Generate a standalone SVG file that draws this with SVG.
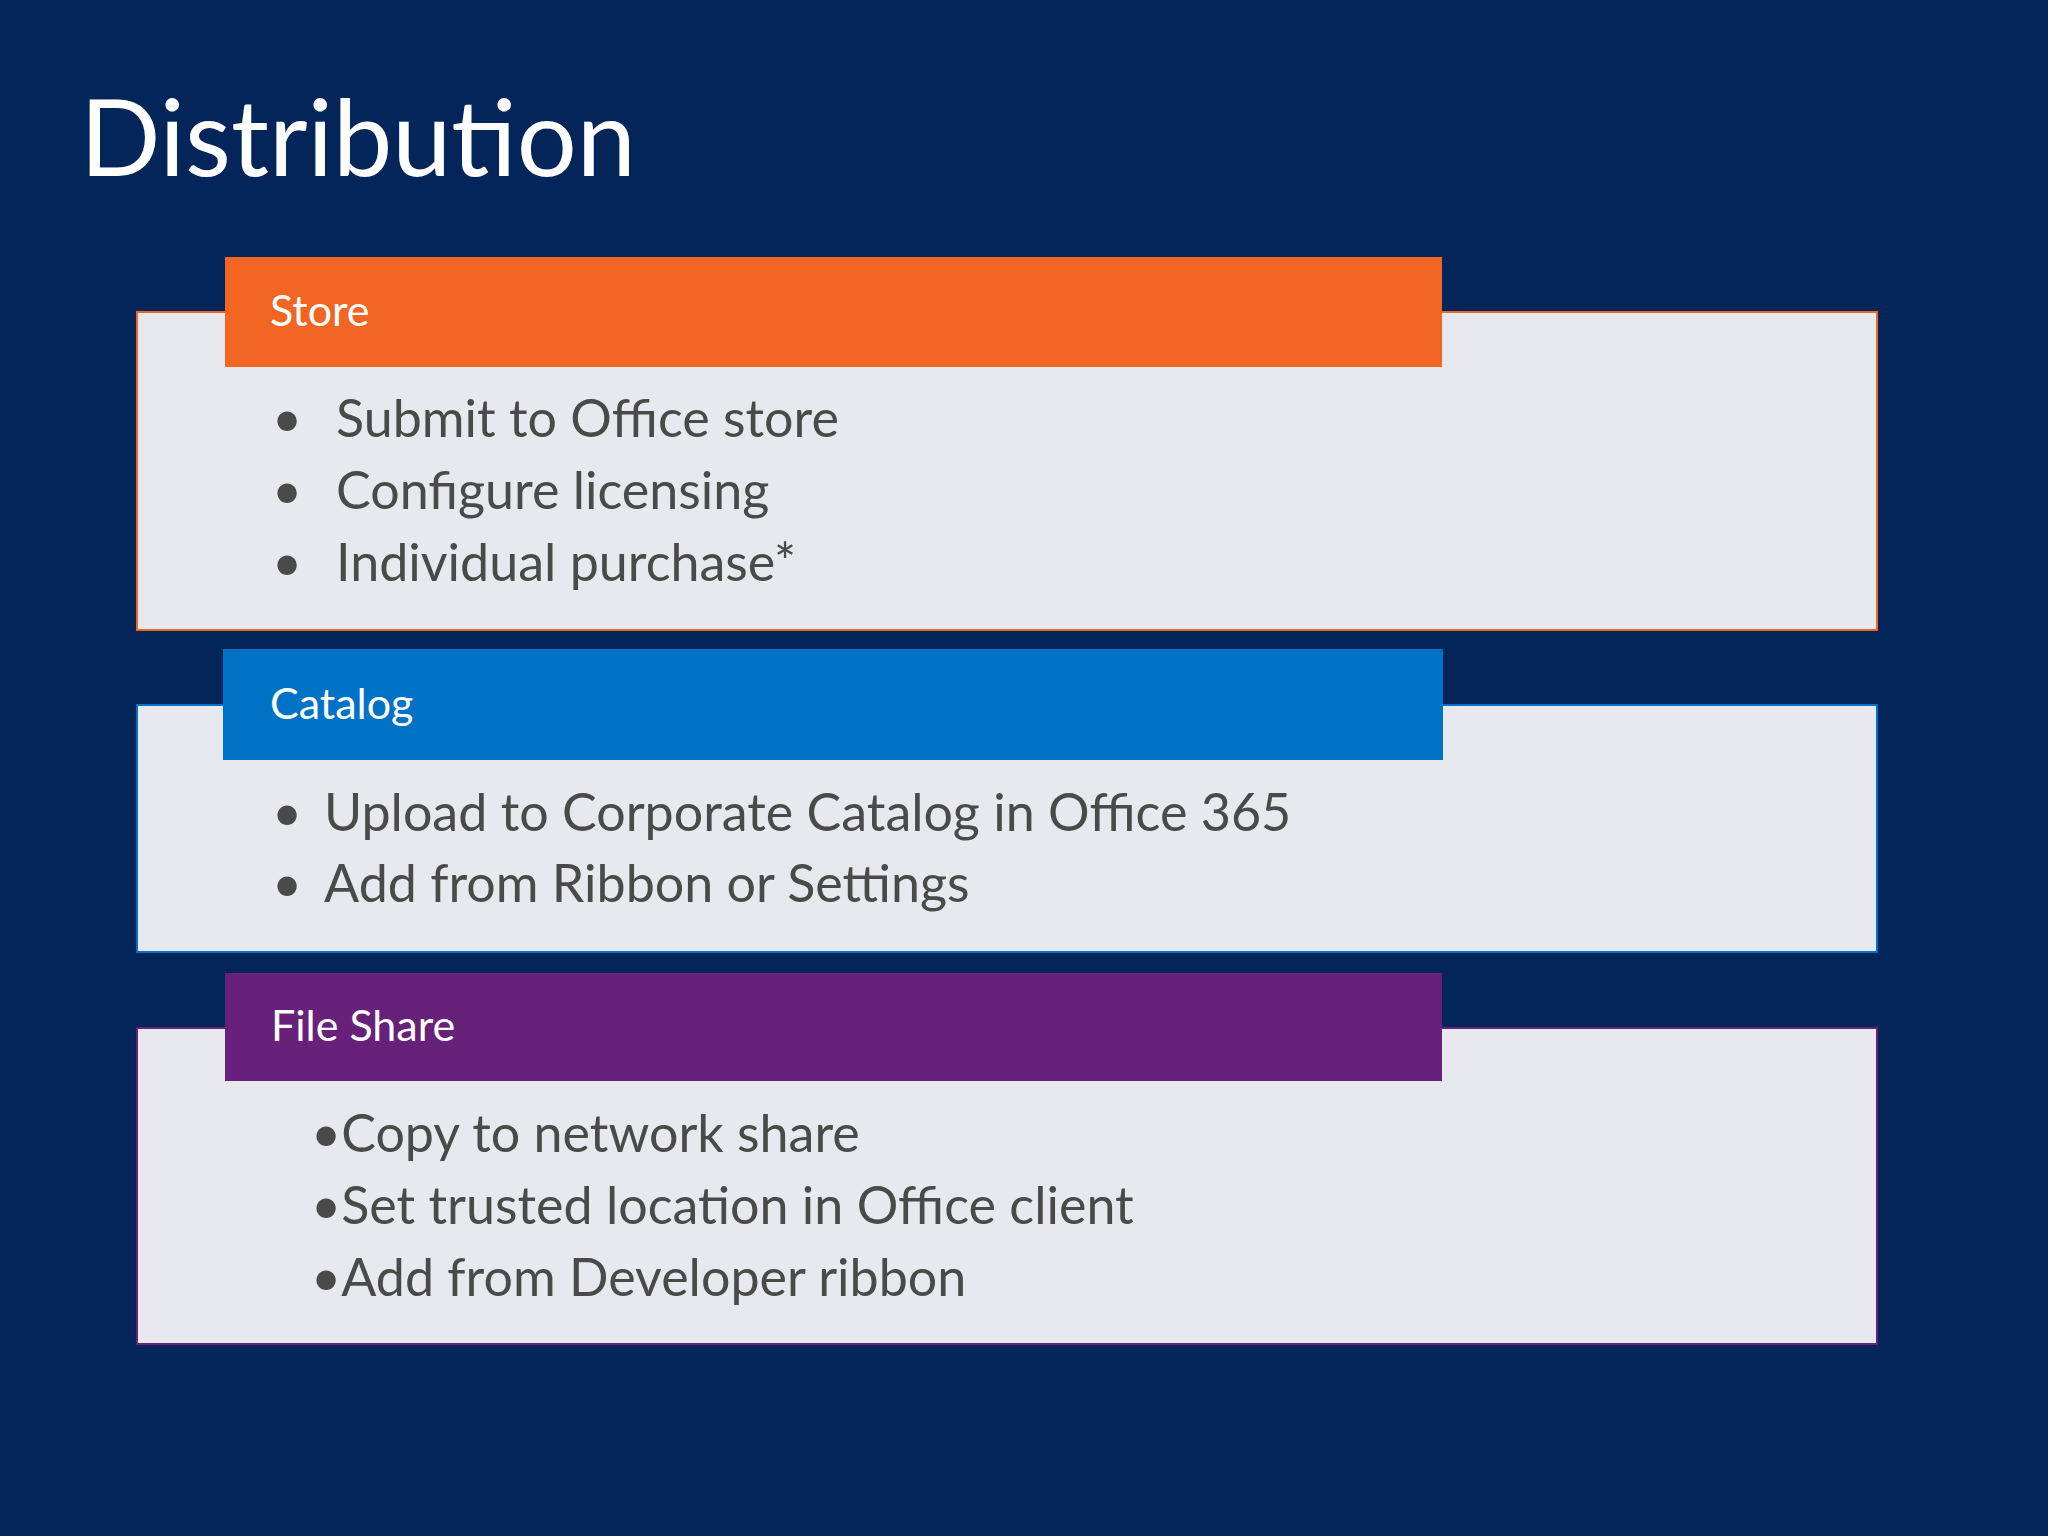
<svg xmlns="http://www.w3.org/2000/svg" width="2048" height="1536" viewBox="0 0 2048 1536">
<style>
.box{fill:#e8e9ef;stroke-width:2}
.hd{fill:#ffffff;font-family:Lato,"Noto Sans",sans-serif;font-size:43px}
.bt{fill:#4a4a4a;font-family:Lato,"Noto Sans",sans-serif;font-size:52px}
</style>
<rect width="2048" height="1536" fill="#03255a"/>
<text x="80" y="176" fill="#ffffff" font-family="Lato,'Noto Sans',sans-serif" font-size="106">Distribution</text>
<g id="store">
<rect class="box" x="137" y="312" width="1740" height="318" stroke="#f26522"/>
<rect x="225" y="257" width="1217" height="110" fill="#f26522"/>
<text class="hd" x="270" y="326">Store</text>
<text class="bt" x="272" y="437">•</text><text class="bt" x="336" y="437">Submit to Office store</text>
<text class="bt" x="272" y="509">•</text><text class="bt" x="336" y="509">Configure licensing</text>
<text class="bt" x="272" y="581">•</text><text class="bt" x="336" y="581">Individual purchase*</text>
</g>
<g id="catalog">
<rect class="box" x="137" y="705" width="1740" height="247" stroke="#0072c6"/>
<rect x="223" y="649" width="1220" height="111" fill="#0072c6"/>
<text class="hd" x="270" y="719">Catalog</text>
<text class="bt" x="272" y="831">•</text><text class="bt" x="324" y="831">Upload to Corporate Catalog in Office 365</text>
<text class="bt" x="272" y="902">•</text><text class="bt" x="324" y="902">Add from Ribbon or Settings</text>
</g>
<g id="fileshare">
<rect class="box" x="137" y="1028" width="1740" height="316" stroke="#68217a"/>
<rect x="225" y="973" width="1217" height="108" fill="#68217a"/>
<text class="hd" x="271" y="1041">File Share</text>
<text class="bt" x="311" y="1152">•Copy to network share</text>
<text class="bt" x="311" y="1224">•Set trusted location in Office client</text>
<text class="bt" x="311" y="1296">•Add from Developer ribbon</text>
</g>
<g id="connectors"/>
</svg>
